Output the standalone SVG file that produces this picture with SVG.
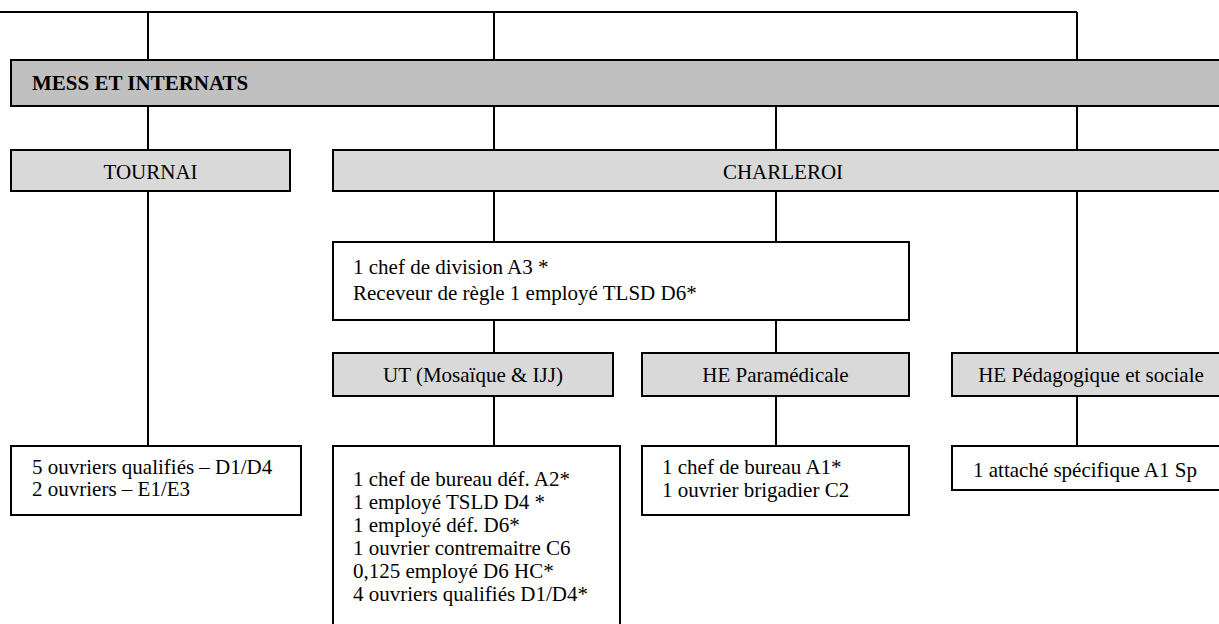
<svg xmlns="http://www.w3.org/2000/svg" width="1219" height="624" viewBox="0 0 1219 624">
  <style>
    .box { stroke: #000; stroke-width: 2; }
    .head { fill: #c0c0c0; }
    .unit { fill: #d9d9d9; }
    .staff { fill: #fff; }
    .txt { font-family: "Liberation Serif", "Times New Roman", serif; font-size: 21px; fill: #000; }
    .bold { font-weight: bold; }
    .mid { text-anchor: middle; }
    .link { stroke: #000; stroke-width: 2; fill: none; }
  </style>
  <rect width="1219" height="624" fill="#fff"/>

  <!-- connectors -->
  <g id="connectors" class="link">
    <path d="M0 12 H1077"/>
    <path d="M148 12 V60 M494 12 V60 M1077 12 V60"/>
    <path d="M148 106 V150 M494 106 V150 M776 106 V150 M1077 106 V150"/>
    <path d="M148 191 V446 M494 191 V242 M776 191 V242 M1077 191 V353"/>
    <path d="M494 320 V353 M776 320 V353"/>
    <path d="M494 396 V446 M776 396 V446 M1077 396 V446"/>
  </g>

  <!-- top level -->
  <g id="mess-internats">
    <rect class="box head" x="11" y="60" width="1230" height="46"/>
    <text class="txt bold" x="32" y="90">MESS ET INTERNATS</text>
  </g>

  <!-- sites -->
  <g id="tournai">
    <rect class="box unit" x="11" y="150" width="279" height="41"/>
    <text class="txt mid" x="150.5" y="179">TOURNAI</text>
  </g>
  <g id="charleroi">
    <rect class="box unit" x="333" y="150" width="910" height="41"/>
    <text class="txt mid" x="783" y="179">CHARLEROI</text>
  </g>

  <!-- Charleroi management -->
  <g id="charleroi-direction">
    <rect class="box staff" x="333" y="242" width="576" height="78"/>
    <text class="txt" x="353" y="274">1 chef de division A3 *</text>
    <text class="txt" x="353" y="300">Receveur de règle 1 employé TLSD D6*</text>
  </g>

  <!-- Charleroi schools -->
  <g id="ut">
    <rect class="box unit" x="333" y="353" width="280" height="43"/>
    <text class="txt mid" x="473" y="382">UT (Mosaïque &amp; IJJ)</text>
  </g>
  <g id="he-paramedicale">
    <rect class="box unit" x="642" y="353" width="267" height="43"/>
    <text class="txt mid" x="775.5" y="382">HE Paramédicale</text>
  </g>
  <g id="he-pedagogique">
    <rect class="box unit" x="952" y="353" width="280" height="43"/>
    <text class="txt mid" x="1091" y="382">HE Pédagogique et sociale</text>
  </g>

  <!-- staff lists -->
  <g id="tournai-staff">
    <rect class="box staff" x="11" y="446" width="290" height="69"/>
    <text class="txt" x="32" y="474">5 ouvriers qualifiés – D1/D4</text>
    <text class="txt" x="32" y="496">2 ouvriers – E1/E3</text>
  </g>
  <g id="ut-staff">
    <rect class="box staff" x="333" y="446" width="287" height="190"/>
    <text class="txt" x="353" y="486">1 chef de bureau déf. A2*</text>
    <text class="txt" x="353" y="509">1 employé TSLD D4 *</text>
    <text class="txt" x="353" y="532">1 employé déf. D6*</text>
    <text class="txt" x="353" y="555">1 ouvrier contremaitre C6</text>
    <text class="txt" x="353" y="578">0,125 employé D6 HC*</text>
    <text class="txt" x="353" y="601">4 ouvriers qualifiés D1/D4*</text>
  </g>
  <g id="he-paramedicale-staff">
    <rect class="box staff" x="642" y="446" width="267" height="69"/>
    <text class="txt" x="662" y="474">1 chef de bureau A1*</text>
    <text class="txt" x="662" y="497">1 ouvrier brigadier C2</text>
  </g>
  <g id="he-pedagogique-staff">
    <rect class="box staff" x="952" y="446" width="280" height="44"/>
    <text class="txt" x="973" y="477">1 attaché spécifique A1 Sp</text>
  </g>
</svg>
